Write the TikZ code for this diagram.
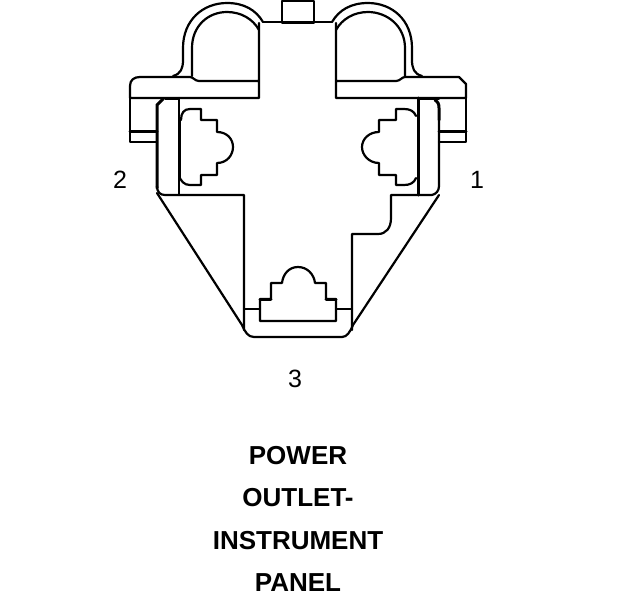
\documentclass[tikz,border=0pt]{standalone}
\usepackage{fontspec}
\setmainfont{Liberation Sans}

\tikzset{
	outline/.style={line width=2.2pt, line join=round, line cap=round},
	heavy/.style={line width=3pt, line cap=round},
	pin/.style={font=\fontsize{25}{25}\selectfont},
	title/.style={font=\fontsize{26}{26}\selectfont\bfseries},
}

\begin{document}
\begin{tikzpicture}[x=1pt, y=-1pt]
	\useasboundingbox (0, 0) rectangle (624, 600);

	% top tab and arches
	\draw[outline] (282, 22) -- (282, 1) -- (314, 1) -- (314, 22);
	\draw[heavy] (282, 22) -- (314, 22);
	\draw[outline] (263, 22) -- (332, 22);

	\draw[outline] (173, 76) .. controls (181, 74) and (183, 68) .. (183, 60)
		-- (183, 48) .. controls (183, 20) and (203, 3) .. (227, 3)
		.. controls (244, 3) and (256, 10) .. (263, 22);
	\draw[outline] (192, 76) -- (192, 48) .. controls (192, 26) and (208, 12) .. (227, 12)
		.. controls (241, 12) and (253, 19) .. (259, 30);
	\draw[outline] (422, 76) .. controls (414, 74) and (412, 68) .. (412, 60)
		-- (412, 48) .. controls (412, 20) and (392, 3) .. (368, 3)
		.. controls (351, 3) and (339, 10) .. (332, 22);
	\draw[outline] (405, 76) -- (405, 48) .. controls (405, 26) and (387, 12) .. (368, 12)
		.. controls (354, 12) and (342, 19) .. (336, 30);

	% flanges
	\draw[outline] (259, 23) -- (259, 98) -- (130, 98) -- (130, 86)
		.. controls (130, 80) and (134, 77) .. (140, 77) -- (190, 77)
		.. controls (193, 77) and (195, 81) .. (199, 81) -- (259, 81);
	\draw[outline] (336, 23) -- (336, 98) -- (466, 98) -- (466, 84) -- (459, 77) -- (405, 77)
		.. controls (402, 77) and (400, 81) .. (396, 81) -- (336, 81);

	% side tabs
	\draw[outline] (130, 98) -- (130, 142) -- (157, 142);
	\draw[heavy] (130, 131) -- (157, 131);
	\draw[outline] (466, 98) -- (466, 142) -- (439, 142);
	\draw[heavy] (439, 131) -- (466, 131);

	% retaining bars
	\draw[heavy] (165, 98) -- (179, 98);
	\draw[heavy] (163, 99) -- (157, 105) -- (157, 188);
	\draw[outline] (179, 98) -- (179, 195);
	\draw[heavy] (418, 98) -- (439, 98);
	\draw[heavy] (418, 98) -- (418, 195);
	\draw[heavy] (435, 100) .. controls (438, 102) and (439, 104) .. (439, 108) -- (439, 120);
	\draw[outline] (439, 120) -- (439, 186) .. controls (439, 191) and (436, 194) .. (432, 195);

	% body
	\draw[outline] (157, 186) .. controls (157, 192) and (160, 195) .. (165, 195)
		-- (244, 195) -- (244, 330);
	\draw[outline] (157, 193) -- (242, 325) .. controls (245, 332) and (248, 337) .. (254, 337)
		-- (342, 337) .. controls (347, 337) and (350, 332) .. (353, 325) -- (439, 195);
	\draw[outline] (432, 195) -- (391, 195) -- (391, 218)
		.. controls (391, 228) and (386, 234) .. (378, 234) -- (352, 234) -- (352, 330);

	% connector cavities
	\draw[outline] (181, 120) .. controls (181, 113) and (184, 109) .. (190, 109) -- (201, 109)
		-- (201, 120) -- (217, 120) -- (217, 132)
		.. controls (227, 132) and (233, 139) .. (233, 147)
		.. controls (233, 155) and (227, 163) .. (217, 163)
		-- (217, 175) -- (201, 175) -- (201, 185) -- (190, 185)
		.. controls (184, 185) and (181, 181) .. (179, 176);
	\draw[heavy] (179, 118) -- (179, 178);
	\draw[outline] (416, 116) .. controls (414, 111) and (410, 109) .. (404, 109) -- (396, 109)
		-- (396, 120) -- (379, 120) -- (379, 132)
		.. controls (369, 132) and (362, 139) .. (362, 147)
		.. controls (362, 155) and (369, 163) .. (379, 163)
		-- (379, 175) -- (396, 175) -- (396, 185) -- (404, 185)
		.. controls (410, 185) and (414, 183) .. (416, 178);
	\draw[outline] (260, 309) -- (260, 321) -- (336, 321) -- (336, 299) -- (326, 299) -- (326, 283)
		-- (315, 283) .. controls (314, 274) and (307, 267) .. (298, 267)
		.. controls (289, 267) and (283, 274) .. (282, 283)
		-- (271, 283) -- (271, 299) -- (260, 299) -- (260, 309);
	\draw[heavy] (260, 299) -- (271, 299);
	\draw[heavy] (326, 299) -- (336, 299);
	\draw[outline] (244, 309) -- (260, 309);
	\draw[outline] (336, 309) -- (352, 309);

	% labels
	\node[pin] (pinone) at (477, 180) {1};
	\node[pin] (pintwo) at (120, 180) {2};
	\node[pin] (pinthree) at (295, 379) {3};
	\node[title] (power) at (298, 456) {POWER};
	\node[title] (outlet) at (298, 498) {OUTLET-};
	\node[title] (instrument) at (298, 541) {INSTRUMENT};
	\node[title] (panel) at (298, 583) {PANEL};
\end{tikzpicture}
\end{document}
